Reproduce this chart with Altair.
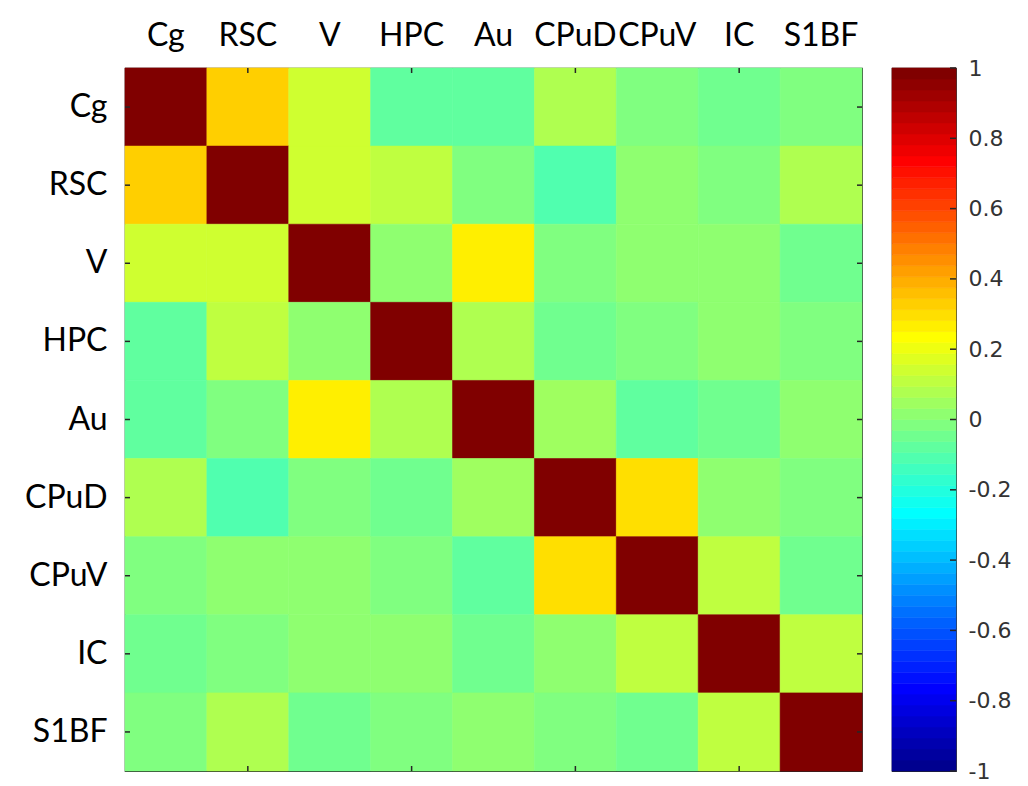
import altair as alt
import pandas as pd

# ---- data ----
regions = ["Cg", "RSC", "V", "HPC", "Au", "CPuD", "CPuV", "IC", "S1BF"]
row_Cg   = [1.00, 0.33, 0.14, -0.08, -0.08, 0.08, -0.02, -0.05, -0.02]
row_RSC  = [0.33, 1.00, 0.14, 0.11, -0.02, -0.11, 0.02, -0.02, 0.08]
row_V    = [0.14, 0.14, 1.00, 0.02, 0.27, -0.02, 0.02, 0.02, -0.05]
row_HPC  = [-0.08, 0.11, 0.02, 1.00, 0.08, -0.05, -0.02, 0.02, -0.02]
row_Au   = [-0.08, -0.02, 0.27, 0.08, 1.00, 0.05, -0.08, -0.05, 0.02]
row_CPuD = [0.08, -0.11, -0.02, -0.05, 0.05, 1.00, 0.30, 0.02, -0.02]
row_CPuV = [-0.02, 0.02, 0.02, -0.02, -0.08, 0.30, 1.00, 0.11, -0.05]
row_IC   = [-0.05, -0.02, 0.02, 0.02, -0.05, 0.02, 0.11, 1.00, 0.11]
row_S1BF = [-0.02, 0.08, -0.05, -0.02, 0.02, -0.02, -0.05, 0.11, 1.00]
rows = [row_Cg, row_RSC, row_V, row_HPC, row_Au, row_CPuD, row_CPuV, row_IC, row_S1BF]

x_tick_regions = ["RSC", "HPC", "CPuD", "IC"]   # MATLAB ticks at 2,4,6,8
cbar_ticks = [-1, -0.8, -0.6, -0.4, -0.2, 0, 0.2, 0.4, 0.6, 0.8, 1]

# ---- MATLAB jet(64) colormap ----
def _c(v):
    return max(0.0, min(1.0, v))

jet64 = []
for k in range(64):
    r = _c(min((k - 23) / 16, (71 - k) / 16))
    g = _c(min((k - 7) / 16, (55 - k) / 16))
    b = _c(min((k + 9) / 16, (39 - k) / 16))
    jet64.append("#%02x%02x%02x" % (round(r * 255), round(g * 255), round(b * 255)))

color_scale = alt.Scale(type="quantize", domain=[-1, 1], range=jet64)

records = []
for rname, vals in zip(regions, rows):
    for cname, v in zip(regions, vals):
        records.append({"row": rname, "col": cname, "value": v})
df = pd.DataFrame(records)

W, H = 737, 703
CB_W = 64
TICK = 5
FONT = "Lato"
tick_color = "#262626"

xs = alt.Scale(domain=regions, paddingInner=0, paddingOuter=0)
ys = alt.Scale(domain=regions, paddingInner=0, paddingOuter=0)
x_axis = alt.Axis(orient="top", labelAngle=0, title=None, ticks=False,
                  domain=False, grid=False, labelFont=FONT, labelFontSize=32,
                  labelColor="#000000", labelPadding=16)
y_axis = alt.Axis(orient="left", title=None, ticks=False, domain=False,
                  grid=False, labelFont=FONT, labelFontSize=32,
                  labelColor="#000000", labelPadding=18)

heat = alt.Chart(df).mark_rect(strokeWidth=0.6).encode(
    x=alt.X("col:N", scale=xs, sort=regions, axis=x_axis),
    y=alt.Y("row:N", scale=ys, sort=regions, axis=y_axis),
    color=alt.Color("value:Q", scale=color_scale, legend=None),
    stroke=alt.Stroke("value:Q", scale=color_scale, legend=None),
)

xt = pd.DataFrame({"col": x_tick_regions})
yt = pd.DataFrame({"row": regions})
top_ticks = alt.Chart(xt).mark_rule(color=tick_color, strokeWidth=1.5).encode(
    x=alt.X("col:N", scale=xs, sort=regions, axis=x_axis), y=alt.value(0), y2=alt.value(TICK))
bot_ticks = alt.Chart(xt).mark_rule(color=tick_color, strokeWidth=1.5).encode(
    x=alt.X("col:N", scale=xs, sort=regions, axis=x_axis), y=alt.value(H - TICK), y2=alt.value(H))
left_ticks = alt.Chart(yt).mark_rule(color=tick_color, strokeWidth=1.5).encode(
    y=alt.Y("row:N", scale=ys, sort=regions, axis=y_axis), x=alt.value(0), x2=alt.value(TICK))
right_ticks = alt.Chart(yt).mark_rule(color=tick_color, strokeWidth=1.5).encode(
    y=alt.Y("row:N", scale=ys, sort=regions, axis=y_axis), x=alt.value(W - TICK), x2=alt.value(W))

heatmap = alt.layer(heat, top_ticks, bot_ticks, left_ticks, right_ticks).properties(
    width=W, height=H)

# ---- colorbar (64 bands) ----
cb_y = alt.Scale(domain=[-1, 1], nice=False, zero=False)
cb_axis = alt.Axis(orient="right", values=cbar_ticks, ticks=False, domain=False,
                   grid=False, title=None, labelFont="DejaVu Sans",
                   labelFontSize=22, labelColor="#333333", labelPadding=12,
                   labelExpr="datum.value == 0 ? '0' : toString(round(datum.value * 10) / 10)")
bands = alt.Chart(alt.sequence(0, 64, as_="i")).transform_calculate(
    v0="-1 + datum.i / 32", v1="-1 + (datum.i + 1) / 32", vm="-1 + (datum.i + 0.5) / 32"
).mark_rect(strokeWidth=0.6).encode(
    y=alt.Y("v0:Q", scale=cb_y, axis=cb_axis),
    y2="v1:Q",
    x=alt.value(0), x2=alt.value(CB_W),
    color=alt.Color("vm:Q", scale=color_scale, legend=None),
    stroke=alt.Stroke("vm:Q", scale=color_scale, legend=None),
)
cb_ticks = alt.Chart(pd.DataFrame({"v0": cbar_ticks})).mark_rule(
    color=tick_color, strokeWidth=1.5).encode(
    y=alt.Y("v0:Q", scale=cb_y, axis=cb_axis),
    x=alt.value(CB_W - 6), x2=alt.value(CB_W))

colorbar = alt.layer(bands, cb_ticks).properties(width=CB_W, height=H)

chart = alt.hconcat(heatmap, colorbar, spacing=27).resolve_scale(
    color="independent", stroke="independent"
).properties(
    padding={"left": 16, "top": 10, "right": 5, "bottom": 5},
    background="white",
).configure_view(stroke="#262626", strokeWidth=1.2)

chart.save("out.html", embed_options={"renderer": "svg", "actions": False})
